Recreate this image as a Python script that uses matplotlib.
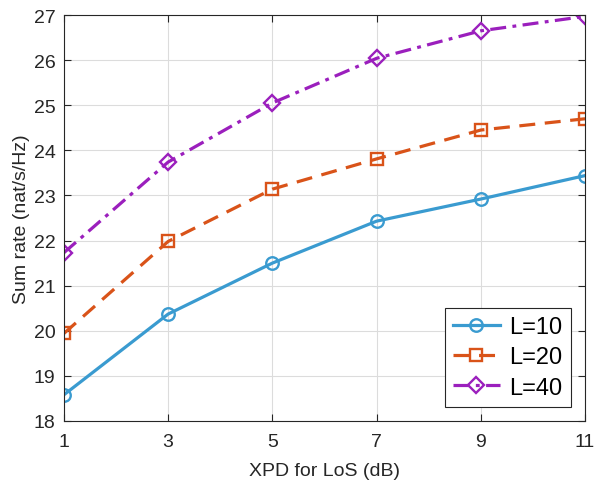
import matplotlib
matplotlib.use("Agg")
from matplotlib import pyplot as plt
import numpy as np

plt.rcParams['font.family'] = ['Liberation Sans', 'DejaVu Sans']

xpd = [1, 3, 5, 7, 9, 11]
rate_l10 = [18.58, 20.37, 21.50, 22.43, 22.92, 23.44]
rate_l20 = [19.94, 21.98, 23.14, 23.81, 24.45, 24.70]
rate_l40 = [21.73, 23.74, 25.05, 26.04, 26.65, 26.97]
labels = ['L=10', 'L=20', 'L=40']

fig = plt.figure(figsize=(5.97, 4.81), dpi=100)
ax = fig.add_axes([0.107, 0.1227, 0.873, 0.844])

ax.plot(xpd, rate_l10, '-', color='#3A9BD0', lw=2.3, marker='o', ms=9,
        mfc='none', mew=1.7, label=labels[0])
ax.plot(xpd, rate_l20, color='#D95319', lw=2.3, ls=(0, (5, 3)), marker='s', ms=8,
        mfc='none', mew=1.7, label=labels[1])
ax.plot(xpd, rate_l40, color='#9B1FBD', lw=2.3, ls=(0, (5, 2, 1.2, 2)), marker='D', ms=8,
        mfc='none', mew=1.7, label=labels[2])

ax.set_xlim(1, 11)
ax.set_ylim(18, 27)
ax.set_xticks(xpd)
ax.set_yticks(range(18, 28))
ax.grid(True, color='#dcdcdc', lw=0.8)
ax.set_axisbelow(True)
ax.tick_params(direction='in', top=True, right=True, labelsize=14, colors='#262626',
               length=5, width=0.8)
ax.tick_params(axis='x', pad=9)
ax.tick_params(axis='y', pad=6)
for s in ax.spines.values():
    s.set_color('#262626')
    s.set_linewidth(0.8)

ax.set_xlabel('XPD for LoS (dB)', fontsize=14, color='#262626', labelpad=8)
ax.set_ylabel('Sum rate (nat/s/Hz)', fontsize=14, color='#262626', labelpad=3)

leg = ax.legend(loc='lower right', fontsize=17, fancybox=False, framealpha=1,
                edgecolor='#262626', handlelength=2.0, borderpad=0.35,
                labelspacing=0.35, handletextpad=0.4, borderaxespad=0.6)
leg.get_frame().set_linewidth(0.8)

plt.savefig('out.png', dpi=100)
